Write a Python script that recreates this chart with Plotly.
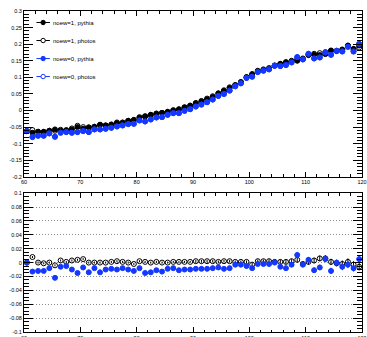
import plotly.graph_objects as go

# bin centres (GeV)
x_centres = [60.5 + i for i in range(60)]

noew1_pythia = [-0.062, -0.067, -0.064, -0.064, -0.061, -0.057, -0.061, -0.060, -0.057, -0.050,
                -0.055, -0.051, -0.049, -0.043, -0.045, -0.043, -0.038, -0.037, -0.031, -0.028,
                -0.022, -0.018, -0.013, -0.010, -0.007, -0.004, 0.000, 0.003, 0.009, 0.014,
                0.021, 0.027, 0.034, 0.041, 0.051, 0.059, 0.068, 0.076, 0.085, 0.100,
                0.110, 0.118, 0.122, 0.126, 0.135, 0.140, 0.145, 0.148, 0.150, 0.157,
                0.167, 0.168, 0.167, 0.170, 0.180, 0.180, 0.184, 0.195, 0.186, 0.196]

noew1_photos = [-0.062, -0.059, -0.064, -0.065, -0.061, -0.061, -0.058, -0.059, -0.054, -0.046,
                -0.050, -0.051, -0.049, -0.043, -0.045, -0.042, -0.036, -0.036, -0.031, -0.030,
                -0.020, -0.017, -0.013, -0.009, -0.007, -0.004, 0.001, 0.004, 0.010, 0.015,
                0.023, 0.029, 0.036, 0.043, 0.052, 0.061, 0.070, 0.077, 0.086, 0.101,
                0.107, 0.120, 0.124, 0.128, 0.136, 0.141, 0.146, 0.150, 0.154, 0.155,
                0.168, 0.171, 0.173, 0.176, 0.181, 0.179, 0.182, 0.196, 0.183, 0.190]

noew0_pythia = [-0.062, -0.080, -0.076, -0.076, -0.069, -0.079, -0.067, -0.065, -0.067, -0.065,
                -0.062, -0.065, -0.057, -0.057, -0.055, -0.052, -0.048, -0.045, -0.041, -0.040,
                -0.030, -0.033, -0.027, -0.021, -0.020, -0.013, -0.008, -0.008, -0.001, 0.004,
                0.012, 0.018, 0.025, 0.033, 0.044, 0.050, 0.060, 0.073, 0.082, 0.098,
                0.102, 0.116, 0.120, 0.124, 0.135, 0.134, 0.137, 0.145, 0.161, 0.154,
                0.171, 0.157, 0.160, 0.175, 0.168, 0.180, 0.178, 0.192, 0.178, 0.201]

noew0_photos = [-0.062, -0.080, -0.076, -0.076, -0.069, -0.079, -0.067, -0.065, -0.067, -0.065,
                -0.062, -0.065, -0.057, -0.057, -0.055, -0.052, -0.048, -0.045, -0.041, -0.040,
                -0.030, -0.033, -0.027, -0.021, -0.020, -0.013, -0.008, -0.008, -0.001, 0.004,
                0.012, 0.018, 0.025, 0.033, 0.044, 0.050, 0.060, 0.073, 0.082, 0.098,
                0.102, 0.116, 0.120, 0.124, 0.135, 0.134, 0.137, 0.145, 0.161, 0.154,
                0.171, 0.157, 0.160, 0.175, 0.168, 0.180, 0.178, 0.192, 0.178, 0.201]

# lower panel: differences w.r.t. noew=1, pythia
diff_noew1_photos = [0.000, 0.008, 0.000, -0.001, 0.000, -0.004, 0.003, 0.001, 0.003, 0.004,
                     0.005, 0.000, 0.000, 0.000, 0.000, 0.001, 0.002, 0.001, 0.000, -0.002,
                     0.002, 0.001, 0.000, 0.001, 0.000, 0.000, 0.001, 0.001, 0.001, 0.001,
                     0.002, 0.002, 0.002, 0.002, 0.001, 0.002, 0.002, 0.001, 0.001, 0.001,
                     -0.003, 0.002, 0.002, 0.002, 0.001, 0.001, 0.001, 0.002, 0.004, -0.002,
                     0.001, 0.003, 0.006, 0.006, 0.001, -0.001, -0.002, 0.001, -0.003, -0.006]

diff_noew0_pythia = [0.000, -0.013, -0.012, -0.012, -0.008, -0.022, -0.006, -0.005, -0.010, -0.015,
                     -0.007, -0.014, -0.008, -0.014, -0.010, -0.009, -0.010, -0.008, -0.010, -0.012,
                     -0.008, -0.015, -0.014, -0.011, -0.013, -0.009, -0.008, -0.011, -0.010, -0.010,
                     -0.009, -0.009, -0.009, -0.008, -0.007, -0.009, -0.008, -0.003, -0.003, -0.005,
                     -0.008, -0.002, -0.002, -0.002, 0.000, -0.006, -0.008, -0.003, 0.011, -0.003,
                     0.004, -0.011, -0.007, 0.005, -0.012, 0.000, -0.006, -0.003, -0.008, 0.005]

diff_err = [0.0015, 0.0015, 0.0015, 0.0015, 0.0015, 0.0015, 0.0015, 0.0015, 0.0015, 0.0015,
            0.0015, 0.0015, 0.0015, 0.0015, 0.0015, 0.0015, 0.0015, 0.0015, 0.0015, 0.0015,
            0.0015, 0.0015, 0.0015, 0.0015, 0.0015, 0.0015, 0.0015, 0.0015, 0.0015, 0.0015,
            0.002, 0.002, 0.002, 0.002, 0.002, 0.002, 0.002, 0.002, 0.002, 0.002,
            0.0025, 0.0025, 0.0025, 0.003, 0.003, 0.003, 0.003, 0.003, 0.0035, 0.0035,
            0.004, 0.004, 0.004, 0.0045, 0.0045, 0.0045, 0.005, 0.005, 0.005, 0.0055]

legend_labels = ["noew=1, pythia", "noew=1, photos", "noew=0, pythia", "noew=0, photos"]

top_y_ticks = [-0.2, -0.15, -0.1, -0.05, 0, 0.05, 0.1, 0.15, 0.2, 0.25, 0.3]
top_y_labels = ["-0.2", "-0.15", "-0.1", "-0.05", "0", "0.05", "0.1", "0.15", "0.2", "0.25", "0.3"]
bot_y_ticks = [-0.1, -0.08, -0.06, -0.04, -0.02, 0, 0.02, 0.04, 0.06, 0.08, 0.1]
bot_y_labels = ["-0.1", "-0.08", "-0.06", "-0.04", "-0.02", "0", "0.02", "0.04", "0.06", "0.08", "0.1"]
x_ticks = [60, 70, 80, 90, 100, 110, 120]
x_labels = ["60", "70", "80", "90", "100", "110", "120"]

BLACK = "#000000"
BLUE = "#1438ff"
MS = 5
FONT = "Liberation Sans, Arial, sans-serif"

W, H = 367, 337
L, R, T, B = 23.5, 4.5, 11, 5.3
PW, PH = W - L - R, H - T - B

fig = go.Figure()

def add(y, color, symbol, xa, ya, err=None):
    fig.add_trace(go.Scatter(
        x=x_centres, y=y, mode="markers",
        marker=dict(color=color, symbol=symbol, size=MS, line=dict(color=color, width=1)),
        error_y=(dict(type="data", array=err, color=color, thickness=1, width=0) if err else None),
        xaxis=xa, yaxis=ya, showlegend=False, hoverinfo="skip"))

add(noew1_pythia, BLACK, "circle", "x", "y")
add(noew1_photos, BLACK, "circle-open", "x", "y")
add(noew0_pythia, BLUE, "circle", "x", "y")
add(noew0_photos, BLUE, "circle-open", "x", "y")

add(diff_noew1_photos, BLACK, "circle-open", "x2", "y2", diff_err)
add(diff_noew0_pythia, BLUE, "circle", "x2", "y2", diff_err)

# manual ROOT-style legend (pixel positions -> paper coords)
def px(xp):
    return (xp - L) / PW

def py(yp):
    return (H - B - yp) / PH

legend_style = [(BLACK, True), (BLACK, False), (BLUE, True), (BLUE, False)]
shapes = []
annotations = []
for k, (label, (col, filled)) in enumerate(zip(legend_labels, legend_style)):
    yc = 22.5 + 18 * k
    shapes.append(dict(type="line", xref="paper", yref="paper", x0=px(36), x1=px(49.5),
                       y0=py(yc), y1=py(yc), line=dict(color=col, width=1)))
    r = 2.2
    shapes.append(dict(type="circle", xref="paper", yref="paper",
                       x0=px(42.7 - r), x1=px(42.7 + r), y0=py(yc + r), y1=py(yc - r),
                       line=dict(color=col, width=1),
                       fillcolor=col if filled else "white"))
    annotations.append(dict(text=label, xref="paper", yref="paper", x=px(50.5), y=py(yc),
                            xanchor="left", yanchor="middle", showarrow=False,
                            font=dict(size=6, family=FONT, color="black")))

common_x = dict(range=[60, 120], tickvals=x_ticks, ticktext=x_labels, ticks="inside", ticklen=5,
                showline=True, linecolor="black", linewidth=1, mirror="allticks",
                tickfont=dict(size=5.5, family=FONT, color="black"), showgrid=False, zeroline=False,
                minor=dict(dtick=2, ticks="inside", ticklen=2.5, tickcolor="black"),
                tickcolor="black", automargin=False)
common_y = dict(ticks="inside", ticklen=9, showline=True, linecolor="black", linewidth=1,
                mirror="allticks", tickfont=dict(size=5.5, family=FONT, color="black"),
                zeroline=False, tickcolor="black", automargin=False)

fig.update_layout(
    width=W, height=H,
    margin=dict(l=L, r=R, t=T, b=B, autoexpand=False),
    paper_bgcolor="white", plot_bgcolor="white",
    font=dict(family=FONT, color="black"),
    xaxis=dict(**common_x, domain=[0, 1], anchor="y"),
    yaxis=dict(**common_y, domain=[0.4833, 1], range=[-0.2, 0.3], tickvals=top_y_ticks,
               ticktext=top_y_labels, showgrid=False, anchor="x",
               minor=dict(dtick=0.01, ticks="inside", ticklen=5, tickcolor="black")),
    xaxis2=dict(**common_x, domain=[0, 1], anchor="y2"),
    yaxis2=dict(**common_y, domain=[0, 0.4325], range=[-0.1, 0.1], tickvals=bot_y_ticks,
                ticktext=bot_y_labels, showgrid=True, gridcolor="#8c8c8c", griddash="1px,2px",
                gridwidth=1, anchor="x2",
                minor=dict(dtick=0.005, ticks="inside", ticklen=5, tickcolor="black")),
    shapes=shapes,
    annotations=annotations,
    showlegend=False,
)

fig.write_html(
    "out.html",
    config={"displayModeBar": False},
    post_script="document.body.style.margin='0';document.body.style.overflow='hidden';",
)
